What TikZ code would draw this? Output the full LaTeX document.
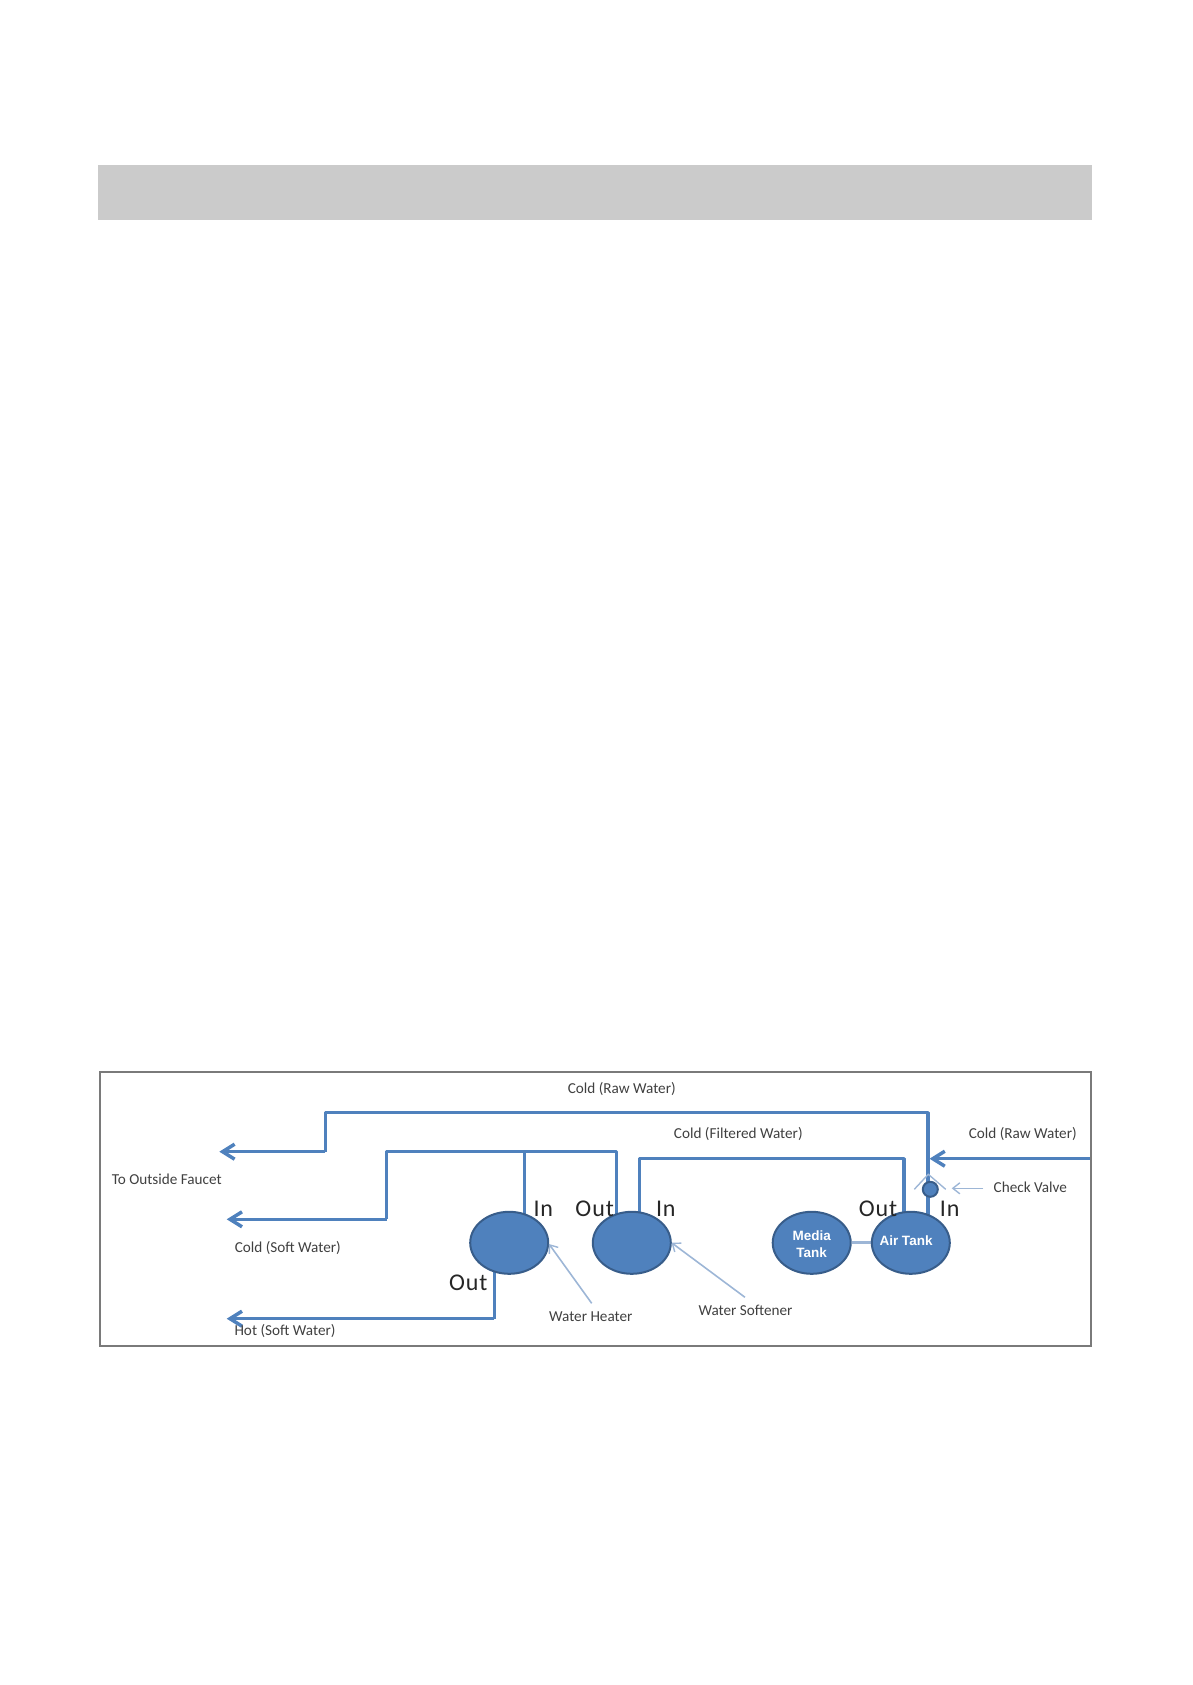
\documentclass[tikz,border=0pt]{standalone}
\usepackage{fontspec}
\setmainfont{Carlito}
\newfontfamily\tankfont{Liberation Sans}
\usetikzlibrary{arrows.meta,shapes.geometric,backgrounds}
\definecolor{pipeblue}{HTML}{4F81BD}
\definecolor{tankedge}{HTML}{385D8A}
\definecolor{leaderblue}{HTML}{9DB6D6}
\definecolor{framegray}{HTML}{7A7A7A}
\definecolor{bandgray}{HTML}{CBCBCB}
\definecolor{labelgray}{HTML}{404040}
\tikzset{
  pipe/.style={draw=pipeblue,line width=3.5pt,line join=round},
  pipearrow/.style={pipe,-{Straight Barb[length=12pt,width=15pt,line width=3.5pt]}},
  leader/.style={draw=leaderblue,line width=1.6pt,-{Straight Barb[length=7pt,width=11pt,line width=1.4pt]}},
  tank/.style={ellipse,draw=tankedge,fill=pipeblue,line width=2pt,inner sep=0pt,minimum width=78pt,minimum height=62pt},
  lab/.style={font=\fontsize{15.2}{17}\selectfont,text=labelgray,inner sep=0pt},
  port/.style={font=\addfontfeature{LetterSpace=4}\fontsize{24}{26}\selectfont,text=black!85,inner sep=0pt},
  tanktext/.style={font=\tankfont\bfseries\fontsize{13.5}{17}\selectfont,text=white,inner sep=0pt,align=center}
}
\begin{document}
\begin{tikzpicture}[x=1pt,y=-1pt]
\useasboundingbox (0,0) rectangle (1192,1685);
\node[fill=bandgray,minimum width=994pt,minimum height=55pt,inner sep=0pt] (band) at (595,192.5) {};

\node[tank] (heater) at (509.2,1242.8) {};
\node[tank] (softener) at (631.8,1242.8) {};
\node[tank] (media) at (811.7,1242.8) {};
\node[tank] (air) at (910.8,1242.8) {};
\node[tanktext] (mediatext) at (811.7,1244) {Media\\Tank};
\node[tanktext] (airtext) at (906,1240.7) {Air Tank};
\node[circle,draw=tankedge,fill=pipeblue,line width=2pt,inner sep=0pt,minimum size=15pt] (valve) at (930.3,1189.3) {};

\coordinate (rawTL) at (325.3,1112.7);
\coordinate (rawTR) at (928,1112.7);
\coordinate (rawBL) at (325.3,1151.7);
\coordinate (faucet) at (219.3,1151.7);
\coordinate (softTL) at (386.7,1151.7);
\coordinate (softTR) at (616.7,1151.7);
\coordinate (softBL) at (386.7,1219.3);
\coordinate (softEnd) at (226.7,1219.3);
\coordinate (heatIn) at (524.7,1151.7);
\coordinate (heatOutB) at (494.3,1318.7);
\coordinate (hotEnd) at (226.7,1318.7);
\coordinate (filtL) at (639.3,1158.7);
\coordinate (filtR) at (904,1158.7);
\coordinate (supply) at (1090,1158.7);
\coordinate (supplyTip) at (929.5,1158.7);
\coordinate (chevTop) at (928.3,1174.3);
\coordinate (chevL) at (914.3,1189.3);
\coordinate (chevR) at (945.7,1189.3);
\coordinate (checkStart) at (983.3,1188.3);
\coordinate (checkTip) at (951.7,1188.3);
\coordinate (softLeadStart) at (745,1297.3);
\coordinate (softLeadTip) at (671.5,1242.7);
\coordinate (heatLeadStart) at (591.7,1303.3);
\coordinate (heatLeadTip) at (549,1244);

\begin{scope}[on background layer]
  \node[draw=framegray,line width=2pt,minimum width=990.5pt,minimum height=273.7pt,inner sep=0pt] (frame) at (595.4,1209.2) {};
  \draw[pipe] (rawTR |- air.center) -- (rawTR) -- (rawTL) -- (rawBL);
  \draw[pipearrow] (rawBL) -- (faucet);
  \draw[pipe] (softTR |- softener.center) -- (softTR) -- (softTL) -- (softBL);
  \draw[pipearrow] (softBL) -- (softEnd);
  \draw[pipe] (heatIn) -- (heatIn |- heater.center);
  \draw[pipe] (heatOutB |- heater.center) -- (heatOutB);
  \draw[pipearrow] (heatOutB) -- (hotEnd);
  \draw[pipe] (filtL |- softener.center) -- (filtL) -- (filtR) -- (filtR |- air.center);
  \draw[pipearrow] (supply) -- (supplyTip);
  \draw[draw=leaderblue,line width=3pt] (media) -- (air);
\end{scope}

\draw[draw=leaderblue,line width=1.4pt] (chevL) -- (chevTop) -- (chevR);
\draw[leader] (checkStart) -- (checkTip);
\draw[leader] (softLeadStart) -- (softLeadTip);
\draw[leader] (heatLeadStart) -- (heatLeadTip);

\node[lab] (t1) at (621.7,1088.7) {Cold (Raw Water)};
\node[lab] (t2) at (166.8,1179.3) {To Outside Faucet};
\node[lab] (t3) at (287.8,1248.3) {Cold (Soft Water)};
\node[lab] (t4) at (285,1331.3) {Hot (Soft Water)};
\node[lab] (t5) at (590.8,1317) {Water Heater};
\node[lab] (t6) at (745.5,1310.7) {Water Softener};
\node[lab] (t7) at (738.3,1134.3) {Cold (Filtered Water)};
\node[lab] (t8) at (1022.7,1134.3) {Cold (Raw Water)};
\node[lab] (t9) at (1030.3,1187.7) {Check Valve};

\node[port] (p1) at (543.3,1208.3) {In};
\node[port] (p2) at (594.7,1208.3) {Out};
\node[port] (p3) at (665.8,1208.3) {In};
\node[port] (p4) at (878,1208.3) {Out};
\node[port] (p5) at (949.7,1208.3) {In};
\node[port] (p6) at (468.3,1282.7) {Out};
\end{tikzpicture}
\end{document}
